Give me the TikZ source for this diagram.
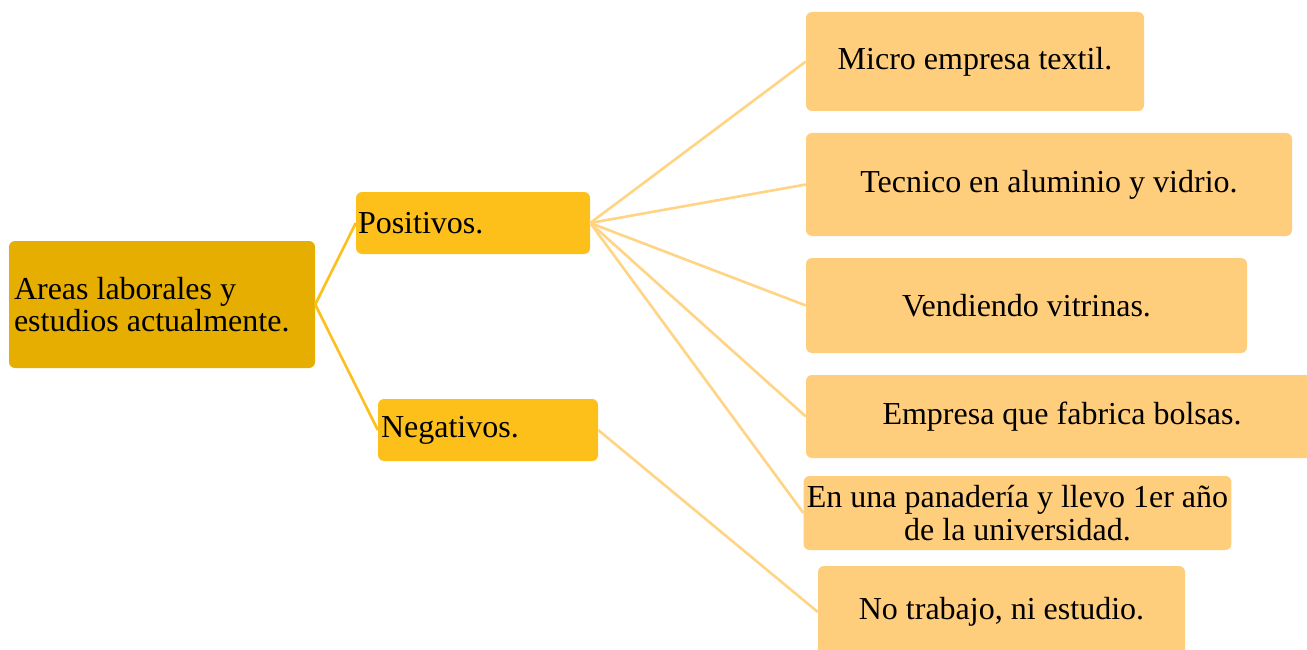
\documentclass[tikz,border=0pt]{standalone}
\usepackage{fontspec}
\setmainfont{Liberation Serif}
\definecolor{rootc}{HTML}{E6AE00}
\definecolor{midc}{HTML}{FDC01A}
\definecolor{leafc}{HTML}{FFCE7D}
\definecolor{leafline}{HTML}{FFD485}
\begin{document}
\begin{tikzpicture}[x=1pt,y=-1pt,
  every node/.style={font=\fontsize{32}{32.5}\selectfont, text=black},
  box/.style={rectangle, rounded corners=6pt, draw=none, inner ysep=0pt},
  rootbox/.style={box, fill=rootc},
  midbox/.style={box, fill=midc},
  leafbox/.style={box, fill=leafc, align=center},
  rootline/.style={draw=midc, line width=2.6pt},
  leafline/.style={draw=leafline, line width=2.6pt}]
\clip (0,0) rectangle (1307,650);
\fill[white] (0,0) rectangle (1307,650);
% root
\node[rootbox, minimum width=306pt, minimum height=127pt, text width=296pt, inner xsep=5pt, align=flush left] (root) at (162,304.5) {Areas laborales y\\estudios actualmente.};
% middle
\node[midbox, minimum width=234pt, minimum height=62pt, text width=230pt, inner xsep=2pt, align=flush left] (pos) at (473,223) {Positivos.};
\node[midbox, minimum width=220pt, minimum height=62pt, text width=214pt, inner xsep=3pt, align=flush left] (neg) at (488,430) {Negativos.};
% leaves
\node[leafbox, minimum width=338pt, minimum height=99pt] (l1) at (975,61.5) {Micro empresa textil.};
\node[leafbox, minimum width=486pt, minimum height=103pt] (l2) at (1049,184.5) {Tecnico en aluminio y vidrio.};
\node[leafbox, minimum width=441pt, minimum height=95pt] (l3) at (1026.5,305.5) {Vendiendo vitrinas.};
\node[leafbox, minimum width=512pt, minimum height=83pt] (l4) at (1062,416.5) {Empresa que fabrica bolsas.};
\node[leafbox, minimum width=427pt, minimum height=74pt] (l5) at (1017.5,513) {En una panadería y llevo 1er año\\de la universidad.};
\node[leafbox, minimum width=367pt, minimum height=92pt] (l6) at (1001.5,612) {No trabajo, ni estudio.};
% connectors
\draw[rootline] (root.east) -- (pos.west);
\draw[rootline] (root.east) -- (neg.west);
\draw[leafline] (pos.east) -- (l1.west);
\draw[leafline] (pos.east) -- (l2.west);
\draw[leafline] (pos.east) -- (l3.west);
\draw[leafline] (pos.east) -- (l4.west);
\draw[leafline] (pos.east) -- (l5.west);
\draw[leafline] (neg.east) -- (l6.west);
\end{tikzpicture}
\end{document}
